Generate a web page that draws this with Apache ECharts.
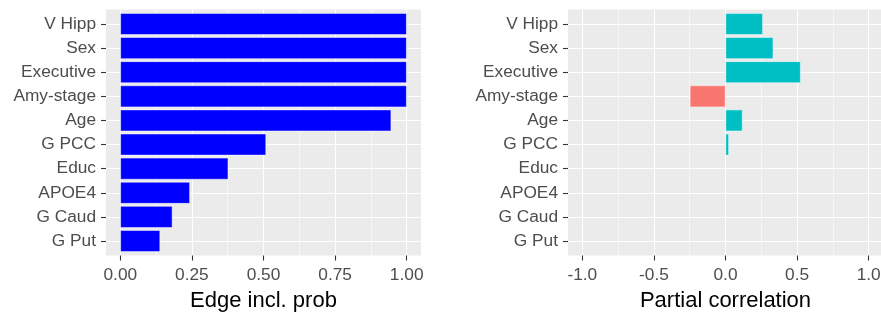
<!DOCTYPE html>
<html><head><meta charset="utf-8">
<script src="https://cdn.jsdelivr.net/npm/echarts@6/dist/echarts.min.js"></script>
<style>html,body{margin:0;padding:0;background:#fff}#c{width:881px;height:312px}</style>
</head><body><div id="c"></div>
<script>
const categories = ["V Hipp","Sex","Executive","Amy-stage","Age","G PCC","Educ","APOE4","G Caud","G Put"];
const edgeProb = [1.0, 1.0, 1.0, 1.0, 0.946, 0.509, 0.377, 0.243, 0.182, 0.139];
const partialCorr = [0.261, 0.334, 0.525, -0.249, 0.119, 0.024, 0, 0, 0, 0];
const edgeMajorTicks = [0, 0.25, 0.5, 0.75, 1.0];
const edgeMinorTicks = [0.125, 0.375, 0.625, 0.875];
const corrMajorTicks = [-1.0, -0.5, 0, 0.5, 1.0];
const corrMinorTicks = [-0.75, -0.25, 0.25, 0.75];
const catPositions = [1,2,3,4,5,6,7,8,9,10];

const FONT = 'Liberation Sans, Arial, sans-serif';
const BG = '#EBEBEB';
const TICK = '#333333';
const LABEL = '#4D4D4D';
const POS = '#00BFC4', NEG = '#F8766D', BLUE = '#0000FF';

const panelTop = 9.5, panelH = 246;
const band = panelH / 10.2;
const barTop = panelTop + 0.1 * band, barH = band * 10;

function majorX(gridIndex, min, max, ticks, dec, name) {
  return {
    type: 'value', gridIndex, min, max, position: 'bottom',
    axisLine: {show: false, onZero: false},
    axisTick: {show: true, customValues: ticks, length: 5, lineStyle: {color: TICK, width: 1.1}},
    axisLabel: {show: true, customValues: ticks, formatter: v => Number(v).toFixed(dec),
      color: LABEL, fontSize: 17.3, fontFamily: FONT, margin: 11},
    splitLine: {show: true, lineStyle: {color: '#FFFFFF', width: 1.1}},
    name, nameLocation: 'middle', nameGap: 34,
    nameTextStyle: {color: '#000000', fontSize: 22, fontFamily: FONT}
  };
}
function minorX(gridIndex, min, max, ticks) {
  return {
    type: 'value', gridIndex, min, max, position: 'top',
    axisLine: {show: false, onZero: false},
    axisTick: {show: false, customValues: ticks},
    axisLabel: {show: false, customValues: ticks},
    splitLine: {show: true, lineStyle: {color: '#FFFFFF', width: 0.55}}
  };
}
function hiddenX(gridIndex, min, max) {
  return {type: 'value', gridIndex, min, max, show: false,
    axisLine: {show: false, onZero: false}, axisTick: {show: false}, axisLabel: {show: false}, splitLine: {show: false}};
}
function labelY(gridIndex) {
  return {
    type: 'value', gridIndex, min: 0.4, max: 10.6, inverse: true, position: 'left',
    axisLine: {show: false, onZero: false},
    axisTick: {show: true, customValues: catPositions, length: 5, lineStyle: {color: TICK, width: 1.1}},
    axisLabel: {show: true, customValues: catPositions, formatter: v => categories[Math.round(v) - 1],
      color: LABEL, fontSize: 17.3, fontFamily: FONT, margin: 10},
    splitLine: {show: true, lineStyle: {color: '#FFFFFF', width: 1.1}}
  };
}
function barY(gridIndex) {
  return {type: 'category', gridIndex, data: categories, inverse: true, show: false,
    axisLine: {show: false, onZero: false}, axisTick: {show: false}, axisLabel: {show: false}, splitLine: {show: false}};
}
function grid(left, top, height, panel) {
  const g = {left, top, width: 315, height, outerBoundsMode: 'none', containLabel: false};
  if (panel) { g.show = true; g.backgroundColor = BG; g.borderWidth = 0; }
  return g;
}

const option = {
  animation: false,
  backgroundColor: '#FFFFFF',
  grid: [
    grid(106, panelTop, panelH, true),
    grid(106, barTop, barH, false),
    grid(568, panelTop, panelH, true),
    grid(568, barTop, barH, false)
  ],
  xAxis: [
    majorX(0, -0.05, 1.05, edgeMajorTicks, 2, 'Edge incl. prob'),
    minorX(0, -0.05, 1.05, edgeMinorTicks),
    hiddenX(1, -0.05, 1.05),
    majorX(2, -1.1, 1.1, corrMajorTicks, 1, 'Partial correlation'),
    minorX(2, -1.1, 1.1, corrMinorTicks),
    hiddenX(3, -1.1, 1.1)
  ],
  yAxis: [labelY(0), barY(1), labelY(2), barY(3)],
  series: [
    {
      type: 'bar', xAxisIndex: 2, yAxisIndex: 1, barWidth: '90%',
      data: edgeProb,
      itemStyle: {color: BLUE, borderColor: 'rgba(255,255,255,0.8)', borderWidth: 0.6}
    },
    {
      type: 'bar', xAxisIndex: 5, yAxisIndex: 3, barWidth: '90%',
      data: partialCorr.map(v => ({
        value: v,
        itemStyle: {color: v < 0 ? NEG : POS, borderColor: 'rgba(255,255,255,0.8)', borderWidth: v === 0 ? 0 : 0.6}
      }))
    }
  ]
};
const chart = echarts.init(document.getElementById('c'), null, {renderer: 'canvas'});
chart.setOption(option);
</script></body></html>
